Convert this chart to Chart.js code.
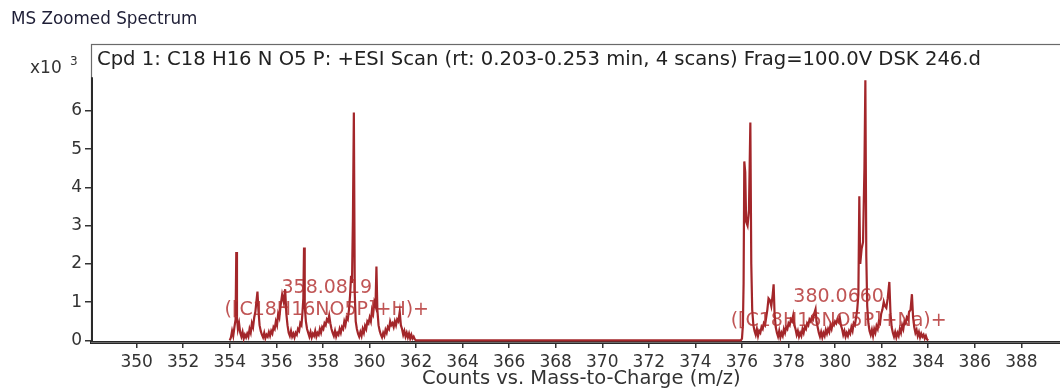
<!DOCTYPE html>
<html>
<head>
<meta charset="utf-8">
<script src="https://cdn.jsdelivr.net/npm/chart.js@4.4.1/dist/chart.umd.min.js"></script>
<style>
    body { margin: 0; background: #fff; }
    #wrap { width: 1060px; height: 389px; position: relative; }
</style>
</head>
<body>
<div id="wrap"><canvas id="spectrum"></canvas></div>
<script>
// m/z and counts (x10^3)
const mzValues = [
    354.00, 354.05, 354.10, 354.15, 354.20, 354.25, 354.28, 354.31, 354.35, 354.40,
    354.45, 354.50, 354.55, 354.60, 354.65, 354.70, 354.75, 354.80, 354.85, 354.90,
    354.95, 355.00, 355.05, 355.10, 355.15, 355.19, 355.23, 355.28, 355.33, 355.38,
    355.43, 355.48, 355.53, 355.58, 355.63, 355.68, 355.73, 355.78, 355.83, 355.88,
    355.93, 355.98, 356.03, 356.08, 356.13, 356.18, 356.25, 356.32, 356.38, 356.43,
    356.48, 356.53, 356.58, 356.63, 356.68, 356.73, 356.78, 356.83, 356.88, 356.93,
    356.98, 357.03, 357.08, 357.12, 357.16, 357.19, 357.22, 357.27, 357.32, 357.37,
    357.42, 357.47, 357.52, 357.57, 357.62, 357.67, 357.72, 357.77, 357.82, 357.87,
    357.92, 357.97, 358.02, 358.07, 358.12, 358.17, 358.22, 358.27, 358.32, 358.37,
    358.42, 358.47, 358.52, 358.57, 358.62, 358.67, 358.72, 358.77, 358.82, 358.87,
    358.92, 358.97, 359.02, 359.07, 359.12, 359.17, 359.21, 359.25, 359.29, 359.33,
    359.37, 359.41, 359.46, 359.51, 359.56, 359.61, 359.66, 359.71, 359.76, 359.81,
    359.86, 359.91, 359.96, 360.01, 360.06, 360.11, 360.16, 360.21, 360.26, 360.30,
    360.34, 360.39, 360.44, 360.49, 360.54, 360.59, 360.64, 360.69, 360.74, 360.79,
    360.84, 360.89, 360.94, 360.99, 361.04, 361.09, 361.14, 361.19, 361.24, 361.30,
    361.35, 361.40, 361.45, 361.50, 361.55, 361.60, 361.65, 361.70, 361.75, 361.80,
    361.85, 361.90, 361.95, 362.00, 369.00, 375.95,
    376.00, 376.04, 376.07, 376.10, 376.14, 376.18, 376.24, 376.30, 376.36, 376.40,
    376.44, 376.49, 376.54, 376.59, 376.64, 376.69, 376.74, 376.79, 376.84, 376.89,
    376.94, 376.99, 377.04, 377.09, 377.14, 377.20, 377.26, 377.32, 377.36, 377.40,
    377.45, 377.50, 377.55, 377.60, 377.65, 377.70, 377.75, 377.80, 377.85, 377.90,
    377.95, 378.00, 378.05, 378.10, 378.15, 378.20, 378.25, 378.30, 378.35, 378.40,
    378.45, 378.50, 378.55, 378.60, 378.65, 378.70, 378.75, 378.80, 378.85, 378.90,
    378.95, 379.00, 379.05, 379.10, 379.16, 379.20, 379.25, 379.30, 379.35, 379.40,
    379.45, 379.50, 379.55, 379.60, 379.65, 379.70, 379.75, 379.80, 379.85, 379.90,
    379.95, 380.00, 380.05, 380.10, 380.15, 380.20, 380.25, 380.30, 380.35, 380.40,
    380.45, 380.50, 380.55, 380.60, 380.65, 380.70, 380.75, 380.80, 380.85, 380.90,
    380.95, 381.00, 381.04, 381.08, 381.14, 381.20, 381.26, 381.30, 381.34, 381.38,
    381.43, 381.48, 381.53, 381.58, 381.63, 381.68, 381.73, 381.78, 381.83, 381.88,
    381.93, 381.98, 382.03, 382.09, 382.14, 382.20, 382.26, 382.33, 382.38, 382.43,
    382.48, 382.53, 382.58, 382.63, 382.68, 382.73, 382.78, 382.83, 382.88, 382.93,
    382.98, 383.03, 383.08, 383.13, 383.18, 383.24, 383.30, 383.35, 383.40, 383.45,
    383.50, 383.55, 383.60, 383.65, 383.70, 383.75, 383.80, 383.85, 383.90, 383.95,
    384.00
];
const countValues = [
    0.00, 0.08, 0.25, 0.12, 0.35, 0.55, 2.31, 0.60, 0.30, 0.45,
    0.20, 0.10, 0.22, 0.05, 0.15, 0.08, 0.18, 0.10, 0.30, 0.20,
    0.45, 0.35, 0.60, 0.75, 1.05, 1.28, 0.80, 0.40, 0.25, 0.15,
    0.08, 0.20, 0.06, 0.15, 0.10, 0.22, 0.12, 0.25, 0.18, 0.35,
    0.30, 0.50, 0.40, 0.70, 0.60, 0.90, 1.20, 1.00, 1.34, 0.70,
    0.40, 0.20, 0.12, 0.25, 0.10, 0.18, 0.08, 0.20, 0.15, 0.30,
    0.25, 0.45, 0.40, 0.70, 1.10, 2.43, 0.90, 0.50, 0.30, 0.20,
    0.10, 0.22, 0.08, 0.18, 0.12, 0.25, 0.10, 0.20, 0.15, 0.30,
    0.20, 0.35, 0.30, 0.45, 0.40, 0.55, 0.50, 0.65, 0.45, 0.30,
    0.20, 0.12, 0.25, 0.10, 0.20, 0.15, 0.30, 0.20, 0.35, 0.30,
    0.50, 0.40, 0.60, 0.55, 0.80, 1.20, 1.69, 1.50, 3.20, 5.96,
    1.20, 0.50, 0.30, 0.18, 0.10, 0.22, 0.12, 0.30, 0.20, 0.38,
    0.30, 0.50, 0.45, 0.60, 0.50, 0.80, 0.70, 1.00, 0.90, 1.93,
    0.80, 0.40, 0.25, 0.15, 0.08, 0.20, 0.12, 0.28, 0.20, 0.35,
    0.30, 0.50, 0.40, 0.45, 0.35, 0.50, 0.40, 0.55, 0.50, 0.75,
    0.40, 0.30, 0.15, 0.25, 0.10, 0.20, 0.08, 0.18, 0.05, 0.15,
    0.05, 0.10, 0.03, 0.00, 0.00, 0.00,
    0.05, 0.40, 1.50, 4.68, 4.40, 3.10, 3.00, 3.40, 5.70, 2.00,
    0.80, 0.40, 0.25, 0.15, 0.30, 0.12, 0.25, 0.20, 0.35, 0.30,
    0.45, 0.40, 0.60, 0.80, 1.10, 1.05, 0.90, 1.20, 1.47, 0.70,
    0.35, 0.20, 0.10, 0.25, 0.08, 0.20, 0.12, 0.30, 0.20, 0.35,
    0.30, 0.45, 0.40, 0.55, 0.50, 0.65, 0.40, 0.30, 0.15, 0.25,
    0.10, 0.20, 0.12, 0.30, 0.20, 0.35, 0.30, 0.45, 0.40, 0.55,
    0.50, 0.60, 0.55, 0.70, 0.82, 0.50, 0.35, 0.20, 0.10, 0.22,
    0.08, 0.20, 0.12, 0.28, 0.18, 0.30, 0.22, 0.40, 0.30, 0.45,
    0.40, 0.50, 0.45, 0.55, 0.50, 0.60, 0.40, 0.30, 0.15, 0.25,
    0.10, 0.20, 0.12, 0.25, 0.18, 0.35, 0.25, 0.45, 0.40, 0.60,
    0.80, 1.20, 3.77, 2.00, 2.40, 2.57, 4.50, 6.80, 2.20, 0.90,
    0.45, 0.25, 0.15, 0.28, 0.12, 0.30, 0.20, 0.38, 0.30, 0.50,
    0.45, 0.70, 0.80, 1.01, 0.90, 0.85, 1.10, 1.53, 0.70, 0.35,
    0.20, 0.10, 0.22, 0.08, 0.20, 0.12, 0.30, 0.20, 0.40, 0.30,
    0.50, 0.45, 0.60, 0.55, 0.75, 0.80, 1.21, 0.60, 0.35, 0.20,
    0.28, 0.12, 0.22, 0.08, 0.18, 0.10, 0.15, 0.05, 0.12, 0.03,
    0.00
];
const xTicks = [350, 352, 354, 356, 358, 360, 362, 364, 366, 368, 370,
    372, 374, 376, 378, 380, 382, 384, 386, 388];
const yTicks = [0, 1, 2, 3, 4, 5, 6];
const peakMasses = ["358.0819", "380.0660"];
const peakIons = ["([C18H16NO5P]+H)+", "([C18H16NO5P]+Na)+"];

const titleText = "MS Zoomed Spectrum";
const headerText = "Cpd 1: C18 H16 N O5 P: +ESI Scan (rt: 0.203-0.253 min, 4 scans) Frag=100.0V DSK 246.d";
const xTitle = "Counts vs. Mass-to-Charge (m/z)";

const FONT = "'DejaVu Sans', sans-serif";
const TRACE = "#a3262a";

// frame, exponent, header line, axis title and peak labels
const decorPlugin = {
    id: "decor",
    beforeDatasetsDraw(chart) {
        const ctx = chart.ctx;
        const a = chart.chartArea;
        const y = chart.scales.y;
        ctx.save();
        ctx.strokeStyle = "#6a6a6a";
        ctx.lineWidth = 1.2;
        ctx.strokeRect(a.left + 0.5, a.top + 0.5, a.right - a.left + 5, a.bottom - a.top);
        ctx.strokeStyle = "#2a2a2a";
        ctx.lineWidth = 2;
        ctx.beginPath();
        ctx.moveTo(a.left + 1, y.getPixelForValue(6.88));
        ctx.lineTo(a.left + 1, a.bottom);
        ctx.stroke();
        ctx.restore();
    },
    afterDraw(chart) {
        const ctx = chart.ctx;
        const a = chart.chartArea;
        const x = chart.scales.x;
        const y = chart.scales.y;
        ctx.save();
        ctx.textBaseline = "middle";
        ctx.fillStyle = "#1e1e36";
        ctx.font = "16.8px " + FONT;
        ctx.fillText(titleText, 11, 20);

        ctx.fillStyle = "#333";
        ctx.font = "17px " + FONT;
        ctx.fillText("x10", 30, 69);
        ctx.font = "12px " + FONT;
        ctx.fillText("3", 70, 62);

        ctx.fillStyle = "#222";
        ctx.font = "19.6px " + FONT;
        ctx.fillText(headerText, a.left + 6, 60);

        ctx.fillStyle = "#333";
        ctx.font = "19.5px " + FONT;
        ctx.fillText(xTitle, 422, 379);

        // peak annotations, centred on their m/z
        const levels = [[1.37, 0.80], [1.14, 0.51]];
        ctx.textAlign = "center";
        ctx.fillStyle = "rgba(178, 48, 48, 0.82)";
        ctx.font = "19px " + FONT;
        peakMasses.forEach((m, i) => {
            const px = x.getPixelForValue(parseFloat(m)) + 2;
            ctx.fillText(m, px, y.getPixelForValue(levels[i][0]));
            ctx.fillText(peakIons[i], px, y.getPixelForValue(levels[i][1]));
        });
        ctx.restore();
    }
};

const points = mzValues.map((m, i) => ({ x: m, y: countValues[i] }));

new Chart(document.getElementById("spectrum"), {
    type: "line",
    data: {
        datasets: [{
            data: points,
            borderColor: TRACE,
            borderWidth: 2.2,
            pointRadius: 0,
            tension: 0,
            fill: false
        }]
    },
    options: {
        responsive: true,
        maintainAspectRatio: false,
        animation: false,
        layout: { padding: { top: 44, left: 0, right: 0, bottom: 0 } },
        plugins: {
            legend: { display: false },
            tooltip: { enabled: false }
        },
        scales: {
            x: {
                type: "linear",
                min: 348.04,
                max: 389.66,
                afterFit: s => { s.height = 47; },
                afterBuildTicks: s => { s.ticks = xTicks.map(v => ({ value: v })); },
                grid: { drawOnChartArea: false, drawTicks: true, tickLength: 6, color: "#333", lineWidth: 1.5 },
                border: { display: true, color: "#222", width: 3 },
                ticks: { font: { family: FONT, size: 17 }, color: "#333", padding: 4, maxRotation: 0, autoSkip: false }
            },
            y: {
                min: -0.04,
                max: 7.75,
                afterFit: s => { s.width = 91; },
                afterBuildTicks: s => { s.ticks = yTicks.map(v => ({ value: v })); },
                grid: { drawOnChartArea: false, drawTicks: true, tickLength: 6, color: "#333", lineWidth: 1.5 },
                border: { display: false },
                ticks: { font: { family: FONT, size: 17 }, color: "#333", padding: 3 }
            }
        }
    },
    plugins: [decorPlugin]
});
</script>
</body>
</html>
